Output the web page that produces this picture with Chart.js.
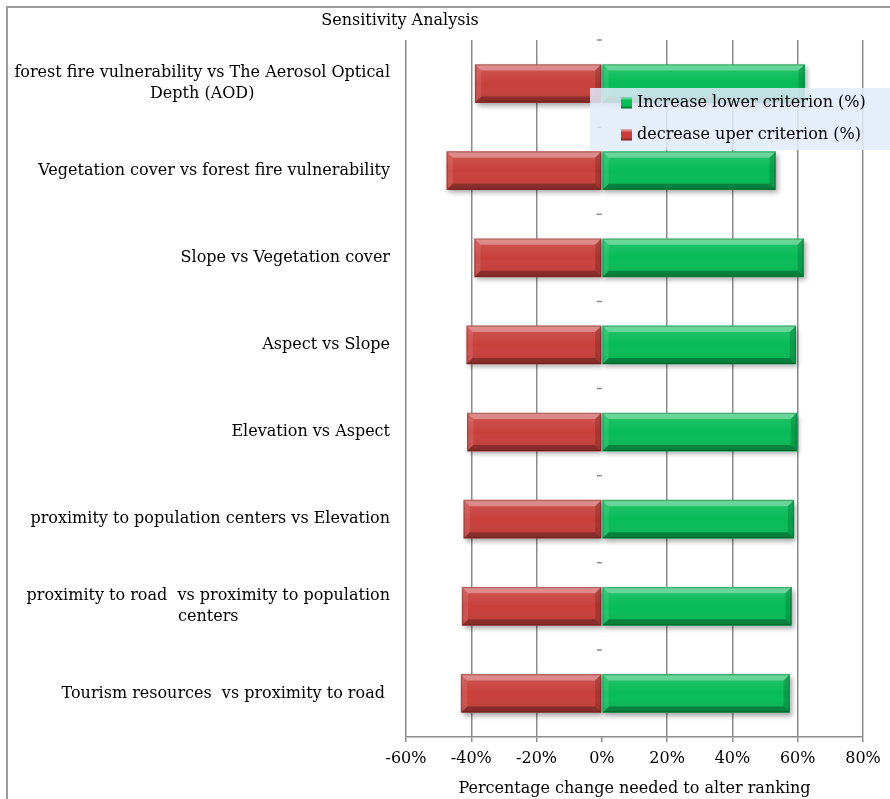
<!DOCTYPE html>
<html>
<head>
<meta charset="utf-8">
<title>Sensitivity Analysis</title>
<script src="https://cdn.jsdelivr.net/npm/chart.js@4/dist/chart.umd.min.js"></script>
<style>
  html, body { margin: 0; padding: 0; background: #ffffff; }
  #wrap { position: relative; width: 890px; height: 799px; }
</style>
</head>
<body>
<div id="wrap"><canvas id="chart" width="890" height="799"></canvas></div>
<script>
// Pairwise criteria compared in the sensitivity analysis (top to bottom)
const categories = [
  ["forest fire vulnerability vs The Aerosol Optical", "Depth (AOD)"],
  ["Vegetation cover vs forest fire vulnerability"],
  ["Slope vs Vegetation cover"],
  ["Aspect vs Slope"],
  ["Elevation vs Aspect"],
  ["proximity to population centers vs Elevation"],
  ["proximity to road  vs proximity to population", "centers"],
  ["Tourism resources  vs proximity to road "]
];

// Percentage change needed to alter the ranking
const increaseLower = [62.1, 53.2, 61.8, 59.4, 59.7, 58.8, 58.1, 57.5];
const decreaseUpper = [-38.8, -47.5, -39.0, -41.4, -41.2, -42.3, -42.8, -43.1];

const seriesNames = ["Increase lower criterion (%)", "decrease uper criterion (%)"];
const xTicks = [-60, -40, -20, 0, 20, 40, 60, 80];

const chartTitle = "Sensitivity Analysis";
const xAxisTitle = "Percentage change needed to alter ranking";

const FONT = "'DejaVu Serif', 'Liberation Serif', serif";
const FONT_SIZE = 16;
const GREEN = "#08bc58";
const RED = "#c8403c";
const GRID = "#8c8c8c";

// Draws the frame, title, category labels, category ticks and legend
const decorations = {
  id: "decorations",
  beforeDraw(chart) {
    const ctx = chart.ctx;
    ctx.save();
    ctx.fillStyle = "#ffffff";
    ctx.fillRect(0, 0, chart.width, chart.height);
    ctx.strokeStyle = "#9a9a9a";
    ctx.lineWidth = 2;
    ctx.beginPath();
    ctx.moveTo(7, chart.height);
    ctx.lineTo(7, 7);
    ctx.lineTo(chart.width, 7);
    ctx.stroke();
    ctx.restore();
  },
  beforeDatasetsDraw(chart) {
    const ctx = chart.ctx;
    ctx.save();
    ctx.shadowColor = "rgba(0,0,0,0.35)";
    ctx.shadowBlur = 5;
    ctx.shadowOffsetX = 2;
    ctx.shadowOffsetY = 3;
  },
  afterDatasetsDraw(chart) {
    const ctx = chart.ctx;
    ctx.restore();
    // bevel overlay on each bar
    chart.data.datasets.forEach((ds, di) => {
      const meta = chart.getDatasetMeta(di);
      meta.data.forEach((bar) => {
        const p = bar.getProps(["x", "y", "base", "height"], true);
        const x0 = Math.min(p.x, p.base), x1 = Math.max(p.x, p.base);
        const y0 = p.y - p.height / 2, y1 = p.y + p.height / 2;
        const b = 6;
        const poly = (pts, fill) => {
          ctx.beginPath();
          ctx.moveTo(pts[0][0], pts[0][1]);
          for (let i = 1; i < pts.length; i++) ctx.lineTo(pts[i][0], pts[i][1]);
          ctx.closePath();
          ctx.fillStyle = fill;
          ctx.fill();
        };
        ctx.save();
        // face shading
        const g = ctx.createLinearGradient(0, y0, 0, y1);
        g.addColorStop(0, "rgba(255,255,255,0.12)");
        g.addColorStop(0.5, "rgba(255,255,255,0.0)");
        g.addColorStop(1, "rgba(0,0,0,0.08)");
        ctx.fillStyle = g;
        ctx.fillRect(x0, y0, x1 - x0, y1 - y0);
        poly([[x0, y0], [x1, y0], [x1 - b, y0 + b], [x0 + b, y0 + b]], "rgba(255,255,255,0.32)");
        poly([[x0, y1], [x1, y1], [x1 - b, y1 - b], [x0 + b, y1 - b]], "rgba(0,0,0,0.28)");
        poly([[x0, y0], [x0 + b, y0 + b], [x0 + b, y1 - b], [x0, y1]], "rgba(255,255,255,0.10)");
        poly([[x1, y0], [x1 - b, y0 + b], [x1 - b, y1 - b], [x1, y1]], "rgba(0,0,0,0.16)");
        ctx.strokeStyle = "rgba(0,0,0,0.22)";
        ctx.lineWidth = 1;
        ctx.strokeRect(x0 + 0.5, y0 + 0.5, x1 - x0 - 1, y1 - y0 - 1);
        ctx.restore();
      });
    });
  },
  afterDraw(chart) {
    const ctx = chart.ctx;
    const area = chart.chartArea;
    const xs = chart.scales.x;
    const ys = chart.scales.y;
    ctx.save();

    // chart title
    ctx.fillStyle = "#000";
    ctx.font = FONT_SIZE + "px " + FONT;
    ctx.textAlign = "center";
    ctx.textBaseline = "middle";
    ctx.fillText(chartTitle, 400, 21);

    // category labels: right-aligned blocks, lines centred inside each block
    const lineH = 21;
    const right = 390;
    categories.forEach((lines, i) => {
      const cy = ys.getPixelForValue(i);
      const w = Math.max(...lines.map((l) => ctx.measureText(l).width));
      const cx = right - w / 2;
      const top = cy - (lines.length - 1) * lineH / 2;
      lines.forEach((l, k) => ctx.fillText(l, cx, top + k * lineH));
    });

    // category tick marks on the zero line
    const x0 = xs.getPixelForValue(0);
    const step = (area.bottom - area.top) / categories.length;
    ctx.strokeStyle = GRID;
    ctx.lineWidth = 1.5;
    ctx.beginPath();
    for (let i = 0; i < categories.length; i++) {
      const y = area.top + i * step;
      ctx.moveTo(x0 - 5, y);
      ctx.lineTo(x0, y);
    }
    ctx.stroke();

    // legend
    const lx = 590, ly = 88, lw = chart.width - lx, lh = 62;
    ctx.fillStyle = "rgba(226,235,250,0.85)";
    ctx.fillRect(lx, ly, lw, lh);
    const colors = [GREEN, RED];
    const rows = [103, 135];
    ctx.textAlign = "left";
    seriesNames.forEach((name, i) => {
      const my = rows[i];
      const s = 11;
      ctx.fillStyle = colors[i];
      ctx.fillRect(621, my - s / 2, s, s);
      ctx.fillStyle = "rgba(255,255,255,0.35)";
      ctx.fillRect(621, my - s / 2, s, 2);
      ctx.fillStyle = "rgba(0,0,0,0.3)";
      ctx.fillRect(621, my + s / 2 - 2, s, 2);
      ctx.fillStyle = "#000";
      ctx.fillText(name, 637, my);
    });
    ctx.restore();
  }
};

new Chart(document.getElementById("chart"), {
  type: "bar",
  data: {
    labels: categories,
    datasets: [
      { label: seriesNames[0], data: increaseLower, backgroundColor: GREEN, borderWidth: 0 },
      { label: seriesNames[1], data: decreaseUpper, backgroundColor: RED, borderWidth: 0 }
    ]
  },
  options: {
    indexAxis: "y",
    responsive: false,
    animation: false,
    devicePixelRatio: 1,
    barThickness: 38,
    layout: { padding: { left: 406, right: 27, top: 40, bottom: 0 } },
    plugins: {
      legend: { display: false },
      title: { display: false },
      tooltip: { enabled: false }
    },
    scales: {
      x: {
        stacked: true,
        min: -60,
        max: 80,
        afterBuildTicks(scale) {
          scale.ticks = xTicks.map((v) => ({ value: v }));
        },
        afterFit(scale) { scale.height = 62; },
        ticks: {
          color: "#000",
          font: { family: FONT, size: FONT_SIZE },
          padding: 7,
          maxRotation: 0,
          callback: (v) => v + "%"
        },
        grid: {
          color: (c) => (c.tick && c.tick.value === 0 ? "rgba(0,0,0,0)" : GRID),
          tickColor: GRID,
          lineWidth: 1.5,
          tickLength: 5,
          drawOnChartArea: true
        },
        border: { display: true, color: GRID, width: 1.5 },
        title: {
          display: true,
          text: xAxisTitle,
          color: "#000",
          font: { family: FONT, size: FONT_SIZE },
          padding: { top: 4, bottom: 1 }
        }
      },
      y: {
        stacked: true,
        display: false
      }
    }
  },
  plugins: [decorations]
});
</script>
</body>
</html>
